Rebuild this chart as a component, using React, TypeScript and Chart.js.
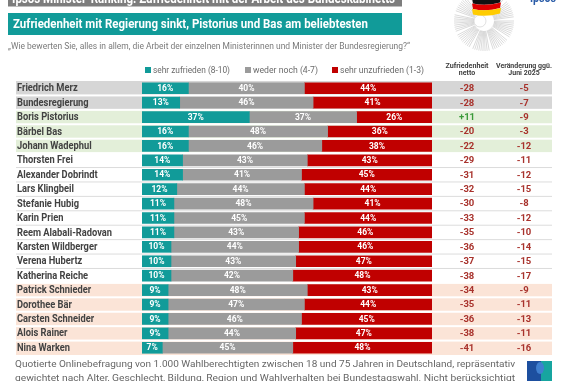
import React, { useEffect, useRef } from 'react';
import { Chart, registerables } from 'chart.js';
Chart.register(...registerables);

const names = [
  'Friedrich Merz', 'Bundesregierung', 'Boris Pistorius', 'Bärbel Bas', 'Johann Wadephul',
  'Thorsten Frei', 'Alexander Dobrindt', 'Lars Klingbeil', 'Stefanie Hubig', 'Karin Prien',
  'Reem Alabali-Radovan', 'Karsten Wildberger', 'Verena Hubertz', 'Katherina Reiche',
  'Patrick Schnieder', 'Dorothee Bär', 'Carsten Schneider', 'Alois Rainer', 'Nina Warken',
];
const sehrZufrieden = [16, 13, 37, 16, 16, 14, 14, 12, 11, 11, 11, 10, 10, 10, 9, 9, 9, 9, 7];
const wederNoch = [40, 46, 37, 48, 46, 43, 41, 44, 48, 45, 43, 44, 43, 42, 48, 47, 46, 44, 45];
const sehrUnzufrieden = [44, 41, 26, 36, 38, 43, 45, 44, 41, 44, 46, 46, 47, 48, 43, 44, 45, 47, 48];
const netto = ['-28', '-28', '+11', '-20', '-22', '-29', '-31', '-32', '-30', '-33', '-35', '-36', '-37', '-38', '-34', '-35', '-36', '-38', '-41'];
const veraenderung = ['-5', '-7', '-9', '-3', '-12', '-11', '-12', '-15', '-8', '-12', '-10', '-14', '-15', '-17', '-9', '-11', '-13', '-11', '-16'];
const rowGroups = ['gray', 'gray', 'green', 'green', 'green', 'white', 'white', 'white', 'white', 'white', 'white', 'white', 'white', 'white', 'peach', 'peach', 'peach', 'peach', 'peach'];
const seriesLabels = ['sehr zufrieden (8-10)', 'weder noch (4-7)', 'sehr unzufrieden (1-3)'];

const TEAL = '#119b99';
const GREY = '#9b9b9b';
const RED = '#c00000';
const FONT = 'Roboto, "Noto Sans", sans-serif';
const groupColors: Record<string, string> = { gray: '#d6d6d6', green: '#e3efd9', peach: '#fbe4d7', white: '#ffffff' };

function txt(ctx: CanvasRenderingContext2D, s: string, x: number, y: number, font: string, color: string,
  align: CanvasTextAlign = 'left', width?: number, baseline: CanvasTextBaseline = 'middle') {
  ctx.save();
  ctx.font = font;
  ctx.fillStyle = color;
  ctx.textBaseline = baseline;
  ctx.textAlign = align;
  const m = ctx.measureText(s).width;
  const sx = width ? width / m : 1;
  ctx.translate(x, y);
  ctx.scale(sx, 1);
  ctx.fillText(s, 0, 0);
  ctx.restore();
}

const decoPlugin = {
  id: 'deco',
  beforeDatasetsDraw(chart: any) {
    const ctx: CanvasRenderingContext2D = chart.ctx;
    const ca = chart.chartArea;
    const y = chart.scales.y;
    const pitch = (ca.bottom - ca.top) / names.length;
    ctx.save();
    // header bars
    ctx.fillStyle = '#7d7d7d';
    ctx.fillRect(8, 0, 394, 6.5);
    txt(ctx, 'Ipsos Minister-Ranking: Zufriedenheit mit der Arbeit des Bundeskabinetts', 12, 2.5, `bold 14px ${FONT}`, '#ffffff', 'left', 383, 'alphabetic');
    ctx.fillStyle = TEAL;
    ctx.fillRect(8, 13, 394, 22);
    txt(ctx, 'Zufriedenheit mit Regierung sinkt, Pistorius und Bas am beliebtesten', 13, 24.5, `bold 13.5px ${FONT}`, '#ffffff', 'left', 355);
    txt(ctx, '„Wie bewerten Sie, alles in allem, die Arbeit der einzelnen Ministerinnen und Minister der Bundesregierung?“', 8, 47, `8.5px ${FONT}`, '#7a7a7a', 'left', 402);

    // parliament / flag logo
    const cx = 484, cy = 21;
    ctx.strokeStyle = '#cbcbcb';
    ctx.lineWidth = 0.7;
    for (let a = 0; a < 360; a += 4) {
      if (a % 40 >= 34) continue;
      const r = (a * Math.PI) / 180;
      ctx.beginPath();
      ctx.moveTo(cx + Math.cos(r) * 10, cy + Math.sin(r) * 10);
      ctx.lineTo(cx + Math.cos(r) * 30, cy + Math.sin(r) * 30);
      ctx.stroke();
    }
    ctx.fillStyle = '#ffffff';
    ctx.beginPath(); ctx.arc(480, 21, 6, 0, Math.PI * 2); ctx.fill();
    ctx.strokeStyle = '#d2d2d2'; ctx.stroke();
    const stripes = ['#111111', '#dd0000', '#ffcc00'];
    stripes.forEach((c, i) => {
      ctx.fillStyle = c;
      ctx.beginPath();
      ctx.moveTo(472, -2 + i * 5.5);
      ctx.quadraticCurveTo(486, 1 + i * 5.5, 501, -3 + i * 5.5);
      ctx.lineTo(500, 2.5 + i * 5.5);
      ctx.quadraticCurveTo(486, 6.5 + i * 5.5, 473, 3.5 + i * 5.5);
      ctx.closePath();
      ctx.fill();
    });
    txt(ctx, 'Ipsos', 530, 2, `bold 12px ${FONT}`, '#2a5ca8', 'left', 26, 'alphabetic');

    // legend
    const legX = [145, 245, 332];
    const legC = [TEAL, GREY, RED];
    const legW = [77, 65, 84];
    legX.forEach((lx, i) => {
      ctx.fillStyle = legC[i];
      ctx.fillRect(lx, 67, 6, 6);
      txt(ctx, seriesLabels[i], lx + 8, 70.5, `9px ${FONT}`, '#6a6a6a', 'left', legW[i]);
    });

    // column headers
    txt(ctx, 'Zufriedenheit', 467, 66.5, `bold 7px ${FONT}`, '#404040', 'center', 43);
    txt(ctx, 'netto', 467, 73, `bold 7px ${FONT}`, '#404040', 'center');
    txt(ctx, 'Veränderung ggü.', 524, 66.5, `bold 7px ${FONT}`, '#404040', 'center', 56);
    txt(ctx, 'Juni 2025', 524, 73, `bold 7px ${FONT}`, '#404040', 'center');

    // row backgrounds
    names.forEach((_, i) => {
      const yc = y.getPixelForValue(i);
      ctx.fillStyle = groupColors[rowGroups[i]];
      ctx.fillRect(16, yc - pitch / 2, 536, pitch);
    });
    names.forEach((_, i) => {
      if (i === 0) return;
      const yb = y.getPixelForValue(i) - pitch / 2;
      const white = rowGroups[i] === 'white' && rowGroups[i - 1] === 'white';
      ctx.fillStyle = white ? '#dcdcdc' : '#ffffff';
      ctx.fillRect(16, yb - (white ? 0.5 : 1), 536, white ? 1 : 2);
    });

    // footnote
    txt(ctx, 'Quotierte Onlinebefragung von 1.000 Wahlberechtigten zwischen 18 und 75 Jahren in Deutschland, repräsentativ', 15, 365, `9.5px ${FONT}`, '#666666', 'left', 500);
    txt(ctx, 'gewichtet nach Alter, Geschlecht, Bildung, Region und Wahlverhalten bei Bundestagswahl. Nicht berücksichtigt', 15, 378.5, `9.5px ${FONT}`, '#666666', 'left', 500);
    // small logo bottom right
    ctx.fillStyle = '#1d4f9f';
    ctx.fillRect(527, 361, 25, 20);
    ctx.fillStyle = '#17a5a0';
    ctx.fillRect(541, 361, 11, 20);
    ctx.fillStyle = '#3f7fd0';
    ctx.beginPath(); ctx.ellipse(540, 368, 4, 6, 0, 0, Math.PI * 2); ctx.fill();
    ctx.restore();
  },
  afterDatasetsDraw(chart: any) {
    const ctx: CanvasRenderingContext2D = chart.ctx;
    const y = chart.scales.y;
    ctx.save();
    // bar value labels
    chart.data.datasets.forEach((ds: any, di: number) => {
      const meta = chart.getDatasetMeta(di);
      meta.data.forEach((el: any, i: number) => {
        const p = el.getCenterPoint();
        txt(ctx, `${ds.data[i]}%`, p.x, p.y + 0.5, `bold 8.5px ${FONT}`, '#ffffff', 'center');
      });
    });
    // names and side columns
    ctx.font = `bold 10.5px ${FONT}`;
    const sx = 95 / ctx.measureText('Reem Alabali-Radovan').width;
    names.forEach((n, i) => {
      const yc = y.getPixelForValue(i);
      ctx.font = `bold 10.5px ${FONT}`;
      const w = ctx.measureText(n).width * sx;
      txt(ctx, n, 17, yc + 0.5, `bold 10.5px ${FONT}`, '#424242', 'left', w);
      const nc = netto[i].startsWith('+') ? '#3a9a3a' : '#a8322c';
      txt(ctx, netto[i], 467, yc + 0.5, `bold 9.5px ${FONT}`, nc, 'center');
      txt(ctx, veraenderung[i], 524, yc + 0.5, `bold 9.5px ${FONT}`, '#a8322c', 'center');
    });
    ctx.restore();
  },
};

export default function App() {
  const ref = useRef<HTMLCanvasElement | null>(null);
  useEffect(() => {
    if (!ref.current) return;
    const chart = new Chart(ref.current, {
      type: 'bar',
      data: {
        labels: names,
        datasets: [
          { label: seriesLabels[0], data: sehrZufrieden, backgroundColor: TEAL },
          { label: seriesLabels[1], data: wederNoch, backgroundColor: GREY },
          { label: seriesLabels[2], data: sehrUnzufrieden, backgroundColor: RED },
        ],
      },
      options: {
        indexAxis: 'y',
        responsive: false,
        animation: false,
        devicePixelRatio: 1,
        layout: { padding: { left: 142, right: 142, top: 81, bottom: 26 } },
        datasets: { bar: { barThickness: 11, borderWidth: 0 } },
        scales: {
          x: { stacked: true, min: 0, max: 100, display: false },
          y: { stacked: true, display: false },
        },
        plugins: { legend: { display: false }, tooltip: { enabled: false }, title: { display: false } },
      },
      plugins: [decoPlugin],
    });
    return () => chart.destroy();
  }, []);
  return (
    <div style={{ position: 'fixed', left: 0, top: 0, width: 574, height: 381, background: '#fff' }}>
      <canvas ref={ref} width={574} height={381} style={{ display: 'block' }} />
    </div>
  );
}
